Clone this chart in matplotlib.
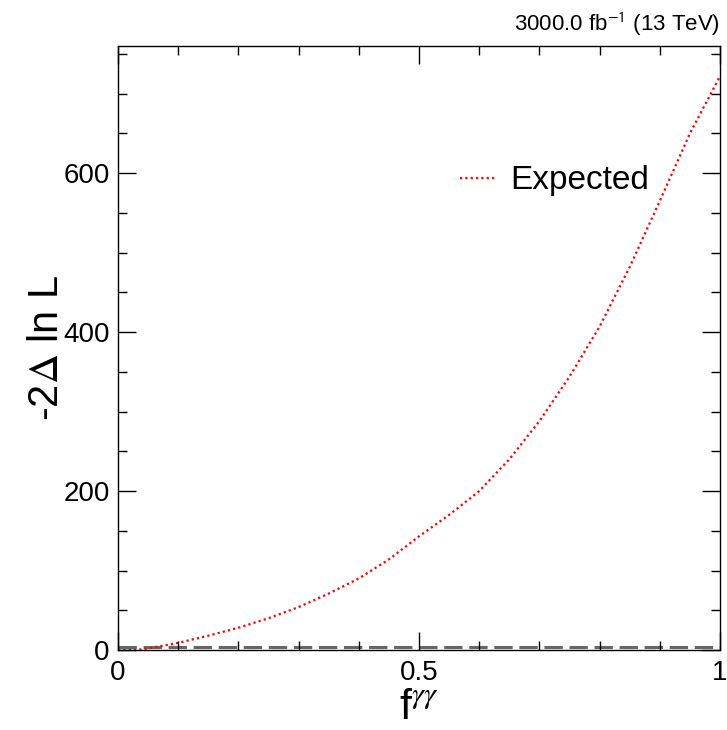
import matplotlib
matplotlib.use("Agg")
import matplotlib.pyplot as plt
from matplotlib.ticker import MultipleLocator, FuncFormatter

plt.rcParams['font.family'] = ['Liberation Sans', 'DejaVu Sans']
plt.rcParams['mathtext.fontset'] = 'stix'

# Data
f_gg = [0.0, 0.03, 0.05, 0.1, 0.15, 0.2, 0.25, 0.3, 0.35, 0.4, 0.45,
        0.5, 0.55, 0.6, 0.65, 0.7, 0.75, 0.8, 0.85, 0.9, 0.95, 1.0]
nll = [0.0, 0.0, 2, 9, 18, 28, 40, 54, 71, 90, 114,
       143, 170, 200, 240, 288, 344, 407, 482, 565, 650, 722]
cl_level = 3.84
legend_label = "Expected"
x_tick_labels = {0.0: "0", 0.5: "0.5", 1.0: "1"}
title_text = r"3000.0 fb$^{\mathsf{-1}}$ (13 TeV)"

W, H = 727, 730
fig = plt.figure(figsize=(W / 100, H / 100), dpi=100)
L, R, T, B = 118, 720, 46, 650
ax = fig.add_axes([L / W, 1 - B / H, (R - L) / W, (B - T) / H])

ax.plot(f_gg, nll, color='red', lw=1.6, linestyle=(0, (1, 1.4)), label=legend_label)
ax.axhline(cl_level, color='#666666', lw=2.2, dashes=(6, 2.2), zorder=1)

ax.set_xlim(0, 1)
ax.set_ylim(0, 760)

ax.xaxis.set_major_locator(MultipleLocator(0.5))
ax.xaxis.set_minor_locator(MultipleLocator(0.1))
ax.yaxis.set_major_locator(MultipleLocator(200))
ax.yaxis.set_minor_locator(MultipleLocator(50))
ax.xaxis.set_major_formatter(FuncFormatter(
    lambda v, p: x_tick_labels.get(round(v, 2), "")))
ax.tick_params(which='both', direction='in', top=True, right=True, width=1.0)
ax.tick_params(which='major', length=13, labelsize=20)
ax.tick_params(which='minor', length=6.5)
ax.tick_params(axis='x', which='major', pad=7)
ax.tick_params(axis='y', which='major', pad=6)
for s in ax.spines.values():
    s.set_linewidth(1.0)

leg = ax.legend(loc='center left', bbox_to_anchor=((460 - L) / (R - L), (B - 181) / (B - T)),
                frameon=False, fontsize=24, borderpad=0, borderaxespad=0,
                handlelength=1.1, handletextpad=0.4)

fig.text(47 / W, 1 - 348 / H, r"-2$\Delta$ ln L", rotation=90, ha='center', va='center',
         fontsize=30)
fig.text(419 / W, 2 / H, r"f$^{\gamma\gamma}$", ha='center', va='bottom', fontsize=31)
fig.text(720 / W, 1 - 31 / H, title_text, ha='right', va='baseline', fontsize=16)

fig.savefig("out.png", dpi=100)
